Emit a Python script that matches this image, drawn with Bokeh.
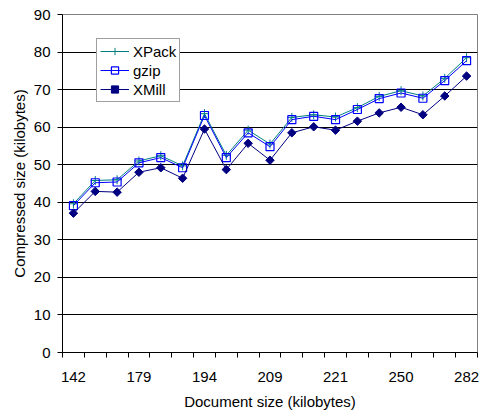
import math
from bokeh.plotting import figure
from bokeh.models import Range1d, FixedTicker, Legend, LegendItem
from bokeh.embed import file_html
from bokeh.resources import INLINE

# ---- data ----
tick_labels = ["142", "179", "194", "209", "221", "250", "282"]
label_every = 3
xpack = [39.6, 45.8, 46.0, 51.0, 52.4, 49.7, 63.6, 52.5, 59.2, 55.5,
         62.6, 63.3, 62.7, 65.2, 68.2, 69.7, 68.3, 73.0, 78.5]
gzip = [39.1, 45.2, 45.4, 50.5, 51.9, 49.2, 63.1, 51.9, 58.5, 54.8,
        62.0, 62.9, 62.0, 64.7, 67.6, 69.1, 67.7, 72.4, 77.7]
xmill = [37.1, 42.9, 42.7, 48.0, 49.2, 46.4, 59.5, 48.7, 55.7, 51.2,
         58.5, 60.1, 59.2, 61.6, 63.8, 65.3, 63.3, 68.3, 73.6]
y_ticks = list(range(0, 91, 10))

n = len(xmill)
xs = list(range(n))
FONT = "Liberation Sans"

p = figure(width=480, height=412, output_backend="svg", toolbar_location=None,
           x_range=Range1d(-0.5, n - 0.5), y_range=Range1d(0, 90),
           min_border_left=62, min_border_right=3, min_border_top=14,
           min_border_bottom=59)
p.background_fill_color = "white"
p.border_fill_color = "white"
p.outline_line_color = "#808080"

# x axis: labels at every third category, tick marks at category boundaries
major = xs[::label_every]
boundaries = [i - 0.5 for i in range(n + 1)]
p.xaxis.ticker = FixedTicker(ticks=major, minor_ticks=boundaries)
p.xaxis.major_label_overrides = {m: lab for m, lab in zip(major, tick_labels)}
p.xaxis.major_tick_out = 0
p.xaxis.major_tick_in = 0
p.xaxis.minor_tick_out = 5
p.xaxis.minor_tick_in = 0
p.xaxis.minor_tick_line_color = "black"
p.xaxis.major_label_standoff = 14
p.xaxis.axis_label = "Document size (kilobytes)"
p.xaxis.axis_label_standoff = 8

p.yaxis.ticker = FixedTicker(ticks=y_ticks)
p.yaxis.major_tick_out = 5
p.yaxis.major_tick_in = 0
p.yaxis.minor_tick_line_color = None
p.yaxis.major_label_standoff = 7
p.yaxis.axis_label = "Compressed size (kilobytes)"
p.yaxis.axis_label_standoff = 3

for ax in (p.xaxis, p.yaxis):
    ax.axis_line_color = "black"
    ax.major_tick_line_color = "black"
    ax.major_label_text_font = FONT
    ax.major_label_text_font_size = "15px"
    ax.major_label_text_color = "black"
    ax.axis_label_text_font = FONT
    ax.axis_label_text_font_size = "15px"
    ax.axis_label_text_font_style = "normal"
    ax.axis_label_text_color = "black"

p.xgrid.grid_line_color = None
p.ygrid.grid_line_color = "black"
p.ygrid.grid_line_width = 1
p.ygrid.ticker = FixedTicker(ticks=y_ticks)

# series
l1 = p.line(xs, xpack, line_color="#008080", line_width=1)
m1 = p.scatter(xs, xpack, marker="cross", size=9, line_color="#008080", line_width=1)
l2 = p.line(xs, gzip, line_color="#0000FF", line_width=1)
m2 = p.scatter(xs, gzip, marker="square", size=8, line_color="#0000FF",
               fill_alpha=0, line_width=1.2)
l3 = p.line(xs, xmill, line_color="#000080", line_width=1)
m3 = p.scatter(xs, xmill, marker="square", size=6, angle=math.pi / 4,
               line_color="#000080", fill_color="#000080")

legend = Legend(items=[
    LegendItem(label="XPack", renderers=[l1, m1]),
    LegendItem(label="gzip", renderers=[l2, m2]),
    LegendItem(label="XMill", renderers=[l3, m3]),
], location=(34, 250))
legend.label_text_font = FONT
legend.label_text_font_size = "15px"
legend.label_text_color = "black"
legend.glyph_width = 29
legend.glyph_height = 18
legend.label_height = 18
legend.label_standoff = 4
legend.spacing = 1
legend.padding = 3
legend.margin = 0
legend.border_line_color = "#404040"
legend.border_line_width = 1
legend.background_fill_color = "white"
legend.background_fill_alpha = 1
p.add_layout(legend)

open("out.html", "w").write(file_html(p, INLINE))
